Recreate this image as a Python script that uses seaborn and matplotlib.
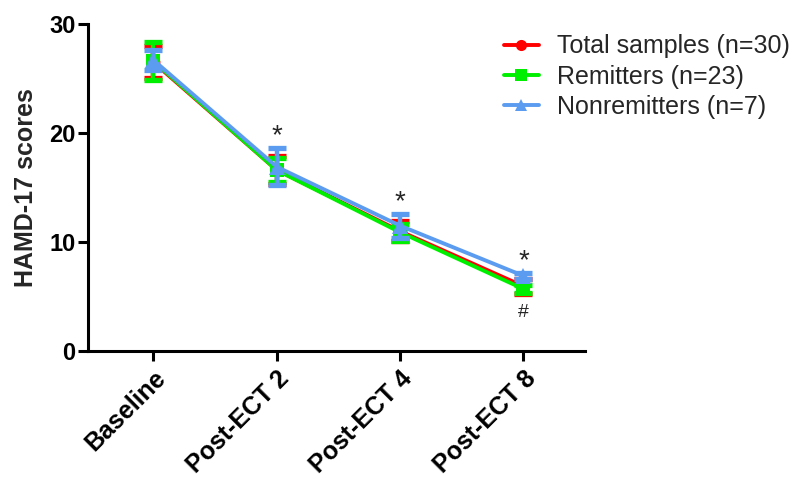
import numpy as np
import pandas as pd
import matplotlib
matplotlib.use("Agg")
import matplotlib.pyplot as plt
import seaborn as sns
from matplotlib.lines import Line2D

# ---- data (mean +/- SEM) ----
timepoints = ["Baseline", "Post-ECT 2", "Post-ECT 4", "Post-ECT 8"]
groups = ["Total samples (n=30)", "Remitters (n=23)", "Nonremitters (n=7)"]

total_mean = [26.5, 16.6, 11.0, 5.95]
total_sem = [1.5, 1.3, 0.9, 0.7]
remit_mean = [26.6, 16.6, 10.9, 5.7]
remit_sem = [1.7, 1.1, 0.8, 0.4]
nonremit_mean = [26.7, 16.9, 11.5, 6.9]
nonremit_sem = [0.95, 1.7, 1.1, 0.3]

star_marks = ["", "*", "*", "*"]
hash_marks = ["", "", "", "#"]

colors = ["#ff0000", "#00ee00", "#5b9cf0"]
markers = ["o", "s", "^"]

means = [total_mean, remit_mean, nonremit_mean]
sems = [total_sem, remit_sem, nonremit_sem]

df = pd.DataFrame({
    "Time": timepoints * 3,
    "x": list(range(len(timepoints))) * 3,
    "Score": total_mean + remit_mean + nonremit_mean,
    "Group": [g for g in groups for _ in timepoints],
})

sns.set_style("ticks")
plt.rcParams["font.family"] = ["Liberation Sans", "DejaVu Sans"]

fig = plt.figure(figsize=(8.06, 4.79), dpi=100)
ax = fig.add_axes([0.109, 0.267, 0.617, 0.683])

for i, g in enumerate(groups):
    sub = df[df["Group"] == g]
    z = 3 + i
    ax.errorbar(sub["x"], sub["Score"], yerr=sems[i], fmt="none",
                ecolor=colors[i], elinewidth=3.2, capsize=6.5, capthick=3.8,
                zorder=z)
    sns.lineplot(data=sub, x="x", y="Score", color=colors[i], marker=markers[i],
                 markersize=10 if markers[i] != "^" else 11, markeredgewidth=0,
                 linewidth=2.8, errorbar=None, ax=ax, zorder=z, legend=False)

# significance markers
tops = np.max(np.array(means) + np.array(sems), axis=0)
bottoms = np.min(np.array(means) - np.array(sems), axis=0)
for xi, s in enumerate(star_marks):
    if s:
        ax.annotate(s, (xi, tops[xi]), xytext=(0, -1), textcoords="offset points",
                    ha="center", va="bottom", fontsize=20)
for xi, s in enumerate(hash_marks):
    if s:
        ax.annotate(s, (xi, bottoms[xi]), xytext=(0, -7), textcoords="offset points",
                    ha="center", va="top", fontsize=14)

ax.set_xlim(-0.53, 3.5)
ax.set_ylim(0, 30)
ax.set_yticks([0, 10, 20, 30])
ax.set_xticks(range(len(timepoints)))
ax.set_xticklabels(timepoints, rotation=45, ha="right", rotation_mode="anchor",
                   fontsize=18, fontweight="bold")
for lab in ax.get_yticklabels():
    lab.set_fontsize(17)
    lab.set_fontweight("bold")
ax.set_xlabel("")
ax.set_ylabel("HAMD-17 scores", fontsize=18, fontweight="bold", labelpad=8)

sns.despine(ax=ax)
for sp in ["left", "bottom"]:
    ax.spines[sp].set_linewidth(2.2)
    ax.spines[sp].set_color("black")
ax.tick_params(axis="both", direction="out", length=7, width=2.2, colors="black", pad=2)
ax.tick_params(axis="x", pad=4)

handles = [Line2D([0], [0], color=c, marker=m, markersize=8 if m != "^" else 9,
                  markeredgewidth=0, linewidth=2.8)
           for c, m in zip(colors, markers)]
fig.legend(handles, groups, loc="upper left", bbox_to_anchor=(0.597, 0.975),
           frameon=False, fontsize=18, handlelength=1.4, labelspacing=0.25,
           handletextpad=0.75)

fig.savefig("out.png", dpi=100)
